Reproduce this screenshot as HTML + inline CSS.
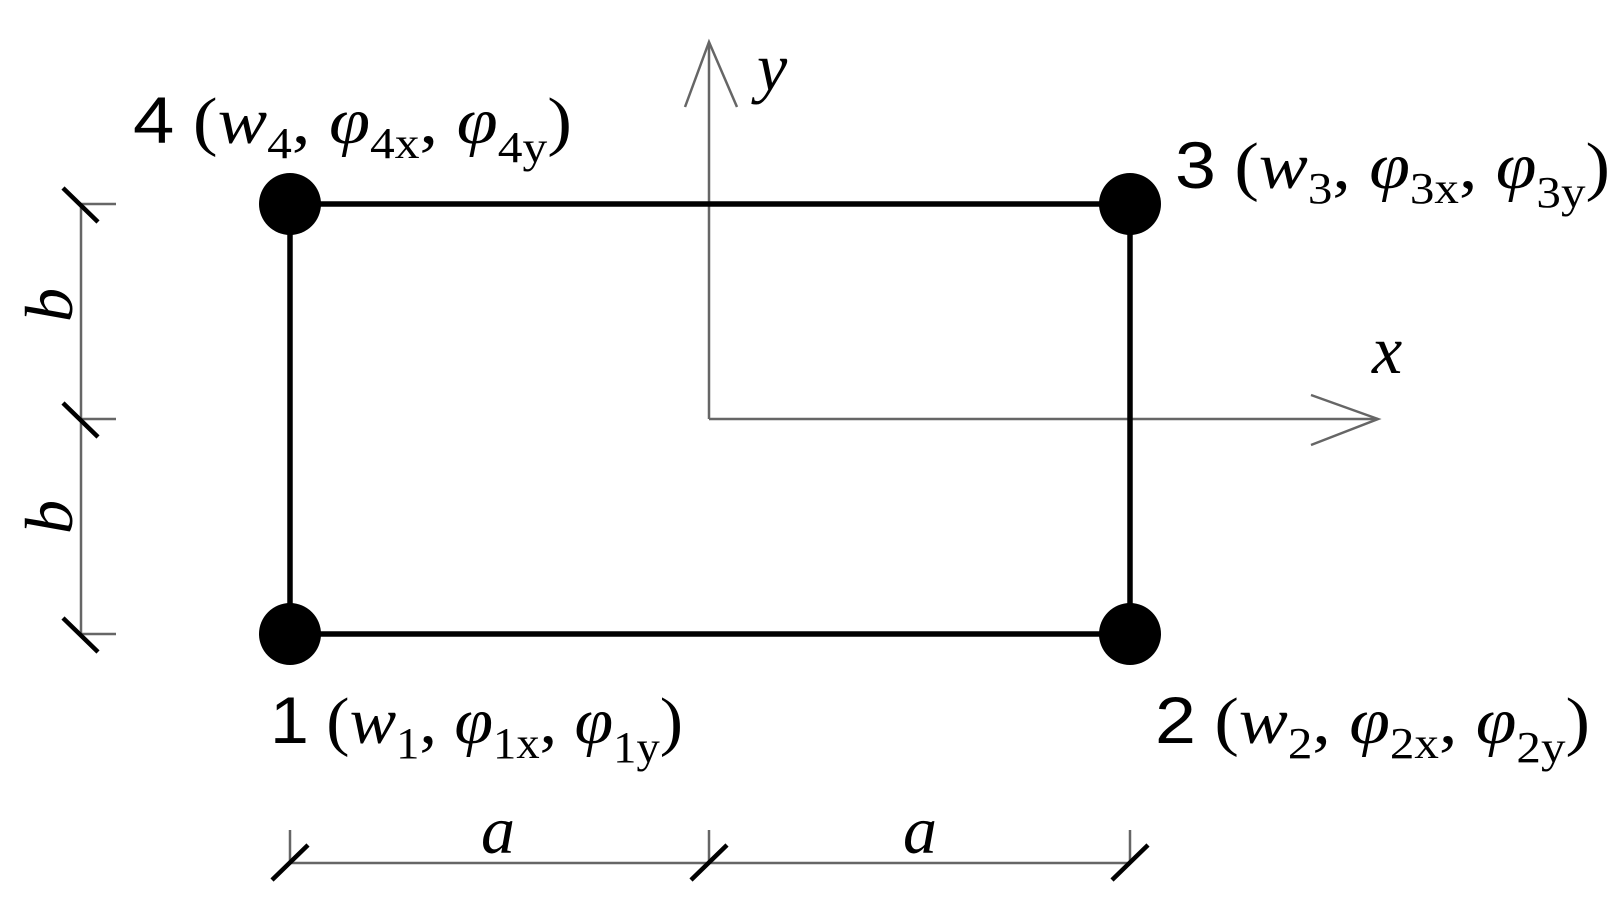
<!DOCTYPE html>
<html><head><meta charset="utf-8"><style>html,body{margin:0;padding:0;background:#fff}svg{display:block}</style></head>
<body>
<svg width="1620" height="906" viewBox="0 0 1620 906" xmlns="http://www.w3.org/2000/svg">
<g stroke="#666" stroke-width="2.5" fill="none">
<line x1="709" y1="419" x2="709" y2="42"/>
<polyline points="685,107 709,42 737,107"/>
<line x1="709" y1="419" x2="1378" y2="419"/>
<polyline points="1311,395 1378,419 1311,445"/>
<line x1="81" y1="204" x2="81" y2="634"/>
<line x1="81" y1="204" x2="116" y2="204"/>
<line x1="81" y1="419" x2="116" y2="419"/>
<line x1="81" y1="634" x2="116" y2="634"/>
<line x1="290" y1="863" x2="1130" y2="863"/>
<line x1="290" y1="830" x2="290" y2="863"/>
<line x1="709" y1="830" x2="709" y2="863"/>
<line x1="1130" y1="830" x2="1130" y2="863"/>
</g>
<g stroke="#000" stroke-width="4.5">
<line x1="63" y1="188" x2="98" y2="222"/>
<line x1="63" y1="403" x2="98" y2="437"/>
<line x1="63" y1="618" x2="98" y2="652"/>
<line x1="272" y1="880" x2="308" y2="845"/>
<line x1="691" y1="880" x2="727" y2="845"/>
<line x1="1112" y1="880" x2="1148" y2="845"/>
</g>
<rect x="290" y="204" width="840" height="430" fill="none" stroke="#000" stroke-width="5.5"/>
<g fill="#000">
<circle cx="290" cy="204" r="31"/><circle cx="1130" cy="204" r="31"/>
<circle cx="290" cy="634" r="31"/><circle cx="1130" cy="634" r="31"/>
</g>
<g font-family="Liberation Serif, serif" font-style="italic" font-size="68" fill="#000">
<text x="757" y="90">y</text>
<text x="1372" y="373">x</text>
<text x="498" y="853" text-anchor="middle">a</text>
<text x="920" y="853" text-anchor="middle">a</text>
<text transform="translate(72,305) rotate(-90)" text-anchor="middle">b</text>
<text transform="translate(72,517) rotate(-90)" text-anchor="middle">b</text>
</g>
<g font-family="Liberation Serif, serif" font-size="66" fill="#000">
<text x="133" y="143" textLength="439" lengthAdjust="spacingAndGlyphs"><tspan font-family="Liberation Sans, sans-serif">4</tspan> (<tspan font-style="italic">w</tspan><tspan font-size="44" dy="15">4</tspan><tspan dy="-15">, </tspan><tspan font-style="italic">φ</tspan><tspan font-size="44" dy="15">4x</tspan><tspan dy="-15">, </tspan><tspan font-style="italic">φ</tspan><tspan font-size="44" dy="19">4y</tspan><tspan dy="-19">)</tspan></text>
<text x="1175" y="188" textLength="435" lengthAdjust="spacingAndGlyphs"><tspan font-family="Liberation Sans, sans-serif">3</tspan> (<tspan font-style="italic">w</tspan><tspan font-size="44" dy="15">3</tspan><tspan dy="-15">, </tspan><tspan font-style="italic">φ</tspan><tspan font-size="44" dy="15">3x</tspan><tspan dy="-15">, </tspan><tspan font-style="italic">φ</tspan><tspan font-size="44" dy="19">3y</tspan><tspan dy="-19">)</tspan></text>
<text x="270" y="743" textLength="413" lengthAdjust="spacingAndGlyphs"><tspan font-family="Liberation Sans, sans-serif">1</tspan> (<tspan font-style="italic">w</tspan><tspan font-size="44" dy="15">1</tspan><tspan dy="-15">, </tspan><tspan font-style="italic">φ</tspan><tspan font-size="44" dy="15">1x</tspan><tspan dy="-15">, </tspan><tspan font-style="italic">φ</tspan><tspan font-size="44" dy="19">1y</tspan><tspan dy="-19">)</tspan></text>
<text x="1155" y="743" textLength="435" lengthAdjust="spacingAndGlyphs"><tspan font-family="Liberation Sans, sans-serif">2</tspan> (<tspan font-style="italic">w</tspan><tspan font-size="44" dy="15">2</tspan><tspan dy="-15">, </tspan><tspan font-style="italic">φ</tspan><tspan font-size="44" dy="15">2x</tspan><tspan dy="-15">, </tspan><tspan font-style="italic">φ</tspan><tspan font-size="44" dy="19">2y</tspan><tspan dy="-19">)</tspan></text>
</g>
</svg>
</body></html>
